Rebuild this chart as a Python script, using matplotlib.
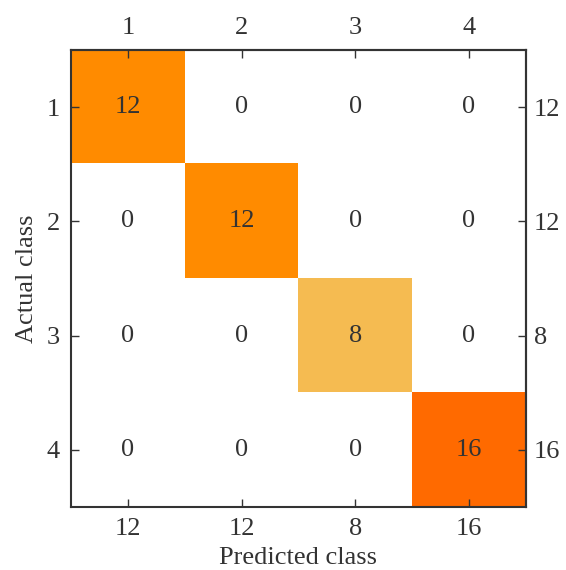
import matplotlib
matplotlib.use("Agg")
import matplotlib.pyplot as plt
import numpy as np
from matplotlib.colors import LinearSegmentedColormap

classes = ["1", "2", "3", "4"]
confusion = [
    [12, 0, 0, 0],
    [0, 12, 0, 0],
    [0, 0, 8, 0],
    [0, 0, 0, 16],
]
row_totals = ["12", "12", "8", "16"]
col_totals = ["12", "12", "8", "16"]

plt.rcParams['font.family'] = ['Liberation Serif', 'DejaVu Serif']
txt = '#333333'
fs = 19

cmap = LinearSegmentedColormap.from_list(
    'cm', [(0.0, '#FFFFFF'), (0.5, '#F5BC52'), (0.75, '#FF8C00'), (1.0, '#FF6A00')])

fig = plt.figure(figsize=(5.66, 5.70), dpi=100)
ax = fig.add_axes([0.1254, 0.1105, 0.8036, 0.8018])
M = np.array(confusion)
ax.imshow(M, cmap=cmap, vmin=0, vmax=16, aspect='auto', interpolation='nearest')

for i in range(M.shape[0]):
    for j in range(M.shape[1]):
        ax.text(j, i, str(M[i, j]), ha='center', va='center', fontsize=fs, color=txt)

n = len(classes)
ax.set_xticks(range(n), labels=col_totals)
ax.set_yticks(range(n), labels=classes)
ax.tick_params(direction='in', length=6, width=1, colors=txt, labelsize=fs, pad=8)
for s in ax.spines.values():
    s.set_color(txt)
    s.set_linewidth(1.5)

top = ax.secondary_xaxis('top')
top.set_xticks(range(n), labels=classes)
top.tick_params(direction='in', length=6, width=1, colors=txt, labelsize=fs, pad=8)
right = ax.secondary_yaxis('right')
right.set_yticks(range(n), labels=row_totals)
right.tick_params(direction='in', length=6, width=1, colors=txt, labelsize=fs, pad=6)
for sa in (top, right):
    for s in sa.spines.values():
        s.set_color(txt)
        s.set_linewidth(1.5)

ax.set_xlabel('Predicted class', fontsize=fs, color=txt, labelpad=5)
ax.set_ylabel('Actual class', fontsize=fs, color=txt, labelpad=6)

fig.savefig('out.png', dpi=100)
